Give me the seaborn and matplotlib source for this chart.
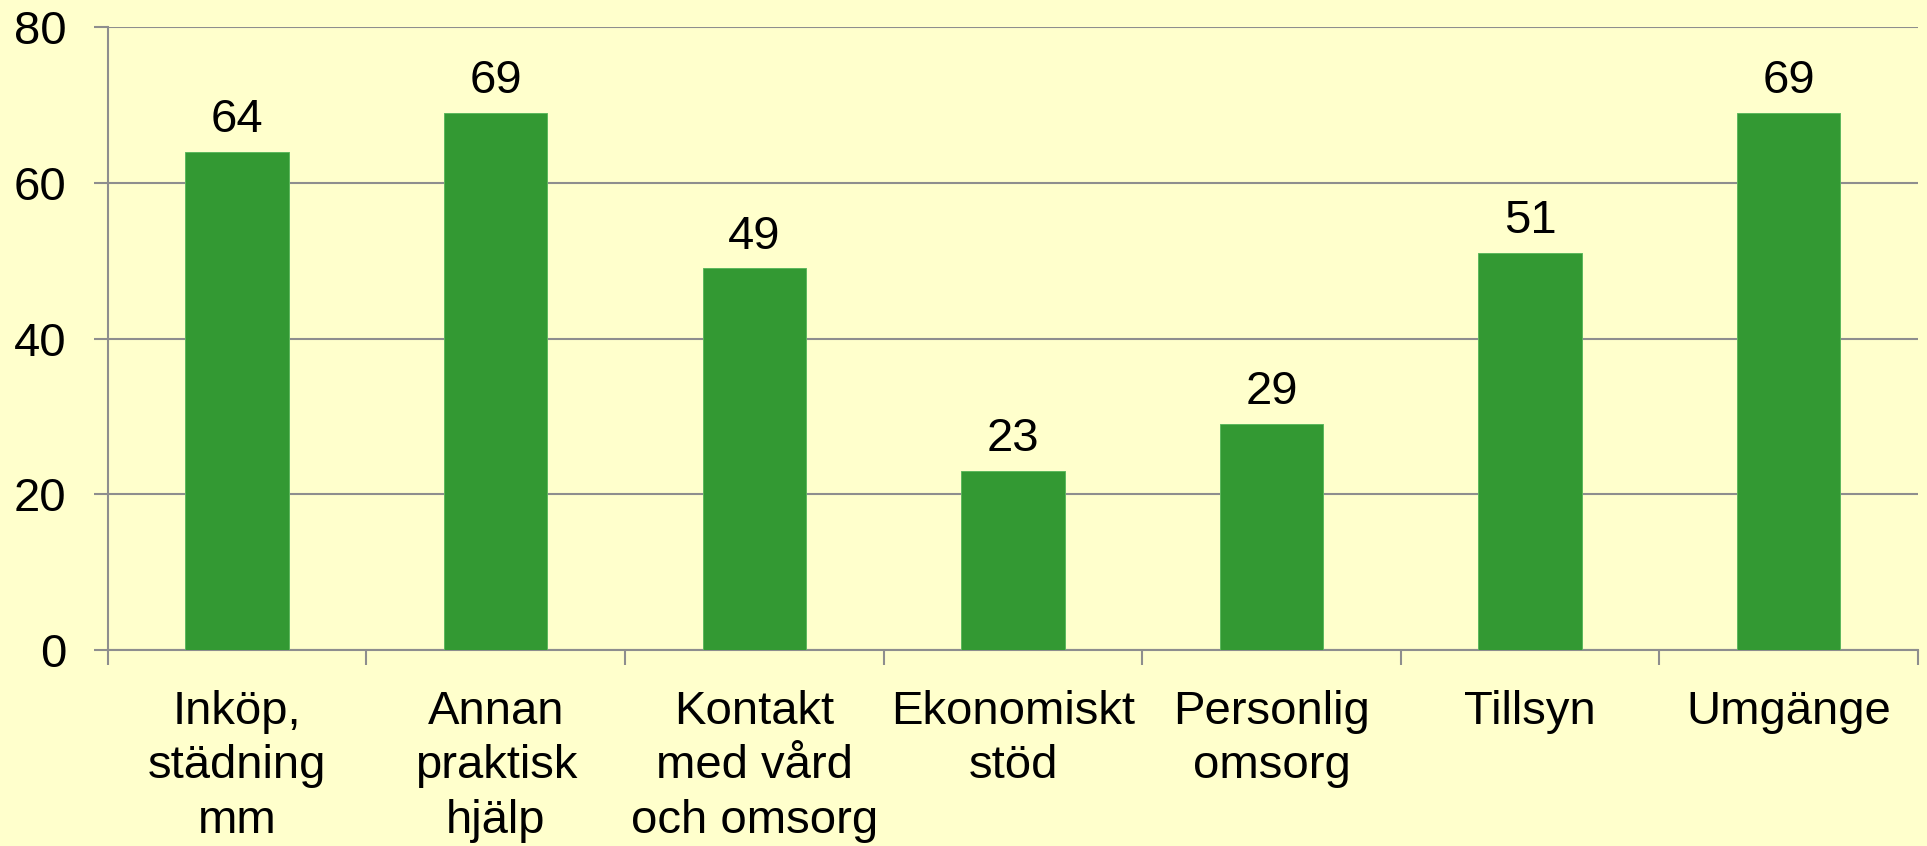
import matplotlib
matplotlib.use('Agg')
import matplotlib.pyplot as plt
import seaborn as sns
import pandas as pd
from matplotlib.ticker import FixedLocator, MultipleLocator

# Data
kategorier = ['Inköp,\nstädning\nmm', 'Annan\npraktisk\nhjälp', 'Kontakt\nmed vård\noch omsorg',
              'Ekonomiskt\nstöd', 'Personlig\nomsorg', 'Tillsyn', 'Umgänge']
varden = [64, 69, 49, 23, 29, 51, 69]

df = pd.DataFrame({'Kategori': kategorier, 'Värde': varden})

bakgrund = '#FFFFCC'
gron = '#339933'
gra = '#8E8E8E'

sns.set_style('white')
plt.rcParams['font.family'] = ['Liberation Sans', 'DejaVu Sans']
plt.rcParams['text.color'] = 'black'
plt.rcParams['xtick.color'] = 'black'
plt.rcParams['ytick.color'] = 'black'

fig = plt.figure(figsize=(19.27, 8.46), dpi=100, facecolor=bakgrund)
ax = fig.add_axes([0.056, 0.2317, 0.9393, 0.7363])
ax.set_facecolor(bakgrund)

sns.barplot(data=df, x='Kategori', y='Värde', color=gron, width=0.4,
            saturation=1, edgecolor='#5DB85D', linewidth=0.7, ax=ax, zorder=3)

ax.set_ylim(0, 80)
ax.set_xlim(-0.5, len(kategorier) - 0.5)
ax.yaxis.set_major_locator(MultipleLocator(20))
ax.grid(axis='y', color=gra, linewidth=1.5, zorder=0)
ax.set_axisbelow(True)

# etiketter ovanför staplarna
ax.bar_label(ax.containers[0], fontsize=34, padding=7, color='black')

# spines
for s in ['top', 'right']:
    ax.spines[s].set_visible(False)
for s in ['left', 'bottom']:
    ax.spines[s].set_color(gra)
    ax.spines[s].set_linewidth(1.5)

ax.set_xlabel('')
ax.set_ylabel('')

# kategoriticks mellan staplarna
ax.xaxis.set_minor_locator(FixedLocator([i - 0.5 for i in range(len(kategorier) + 1)]))
ax.tick_params(axis='x', which='major', bottom=True, length=0, pad=29, labelsize=34,
               labelcolor='black')
ax.tick_params(axis='x', which='minor', bottom=True, length=11, width=1.5, color=gra)
ax.tick_params(axis='y', which='major', left=True, length=10, width=1.5, color=gra,
               pad=20, labelsize=34, labelcolor='black')
for lbl in ax.get_xticklabels():
    lbl.set_linespacing(1.3)

fig.savefig('out.png', dpi=100, facecolor=bakgrund)
